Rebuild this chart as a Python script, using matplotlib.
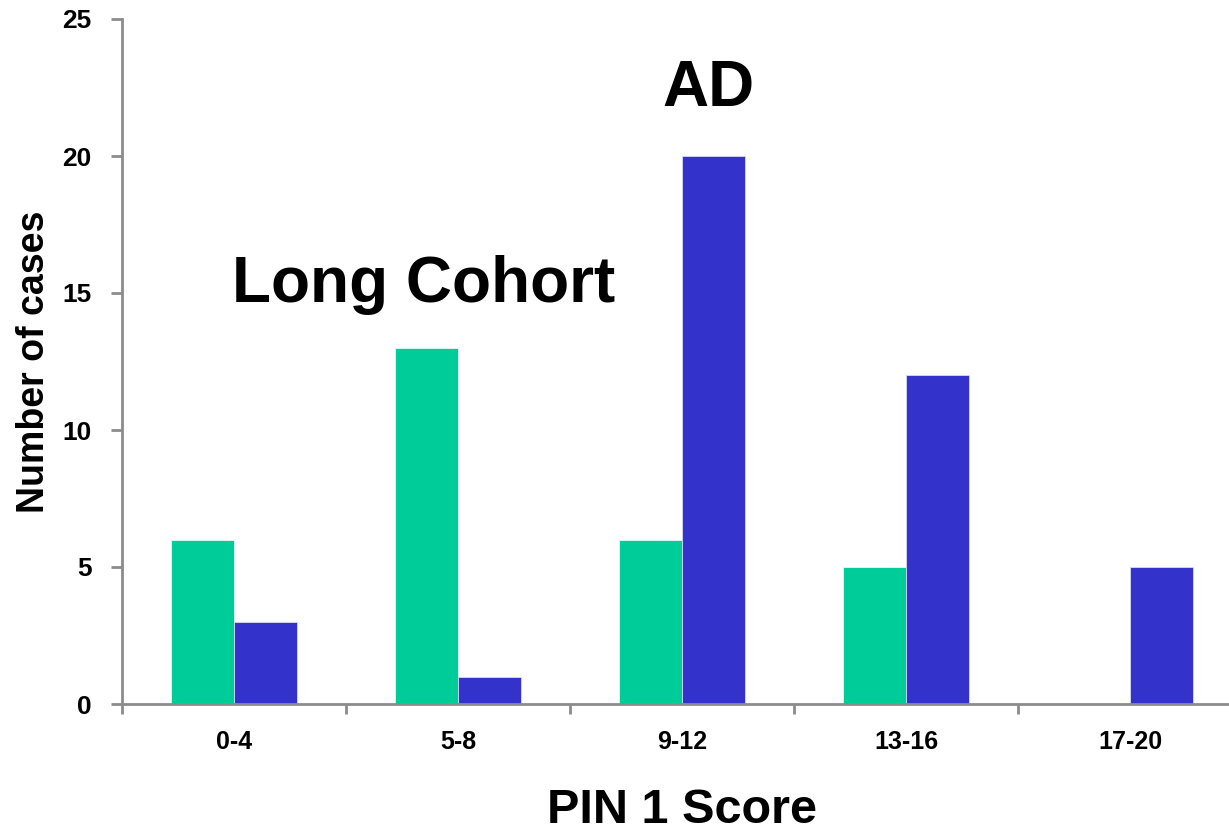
import matplotlib
matplotlib.use("Agg")
import matplotlib.pyplot as plt
import numpy as np

categories = ["0-4", "5-8", "9-12", "13-16", "17-20"]
long_cohort = [6, 13, 6, 5, 0]
ad = [3, 1, 20, 12, 5]

green = "#00CC99"
blue = "#3333CC"
axis_gray = "#8C8C8C"

plt.rcParams["font.family"] = ["Liberation Sans", "DejaVu Sans"]
plt.rcParams["font.weight"] = "bold"

fig = plt.figure(figsize=(12.29, 8.32), dpi=100)
W, H = 1229, 832
left, right = 122, 1242
bottom, top = 704, 19
ax = fig.add_axes([left / W, 1 - bottom / H, (right - left) / W, (bottom - top) / H])

x = np.arange(len(categories))
bw = 0.283
ax.bar(x - bw / 2, long_cohort, width=bw, color=green, edgecolor="#E6F7F1", linewidth=0.6)
ax.bar(x + bw / 2, ad, width=bw, color=blue, edgecolor="#D9D9F2", linewidth=0.6)

ax.set_xlim(-0.5, len(categories) - 0.5)
ax.set_ylim(0, 25)
ax.set_yticks([0, 5, 10, 15, 20, 25])

# category labels centred, tick marks on category boundaries
ax.set_xticks(x)
ax.set_xticklabels(categories, fontsize=18, fontweight="bold")
ax.tick_params(axis="x", which="major", length=0, pad=19)
ax.set_xticks(np.arange(-0.5, len(categories), 1.0), minor=True)
ax.tick_params(axis="x", which="minor", length=7, width=2, color=axis_gray, direction="out")
ax.tick_params(axis="y", length=8, width=2, color=axis_gray, direction="out", pad=14, labelsize=19)
for lab in ax.get_yticklabels():
    lab.set_fontweight("bold")

for s in ["top", "right"]:
    ax.spines[s].set_visible(False)
for s in ["left", "bottom"]:
    ax.spines[s].set_color(axis_gray)
    ax.spines[s].set_linewidth(2)

ax.set_ylabel("Number of cases", fontsize=27, fontweight="bold", labelpad=7)
ax.set_xlabel("PIN 1 Score", fontsize=35, fontweight="bold", labelpad=24)

ax.text(0.848, 15.3, "Long Cohort", fontsize=46, fontweight="bold", ha="center", va="center")
ax.text(2.116, 22.45, "AD", fontsize=46, fontweight="bold", ha="center", va="center")

fig.savefig("out.png", dpi=100)
